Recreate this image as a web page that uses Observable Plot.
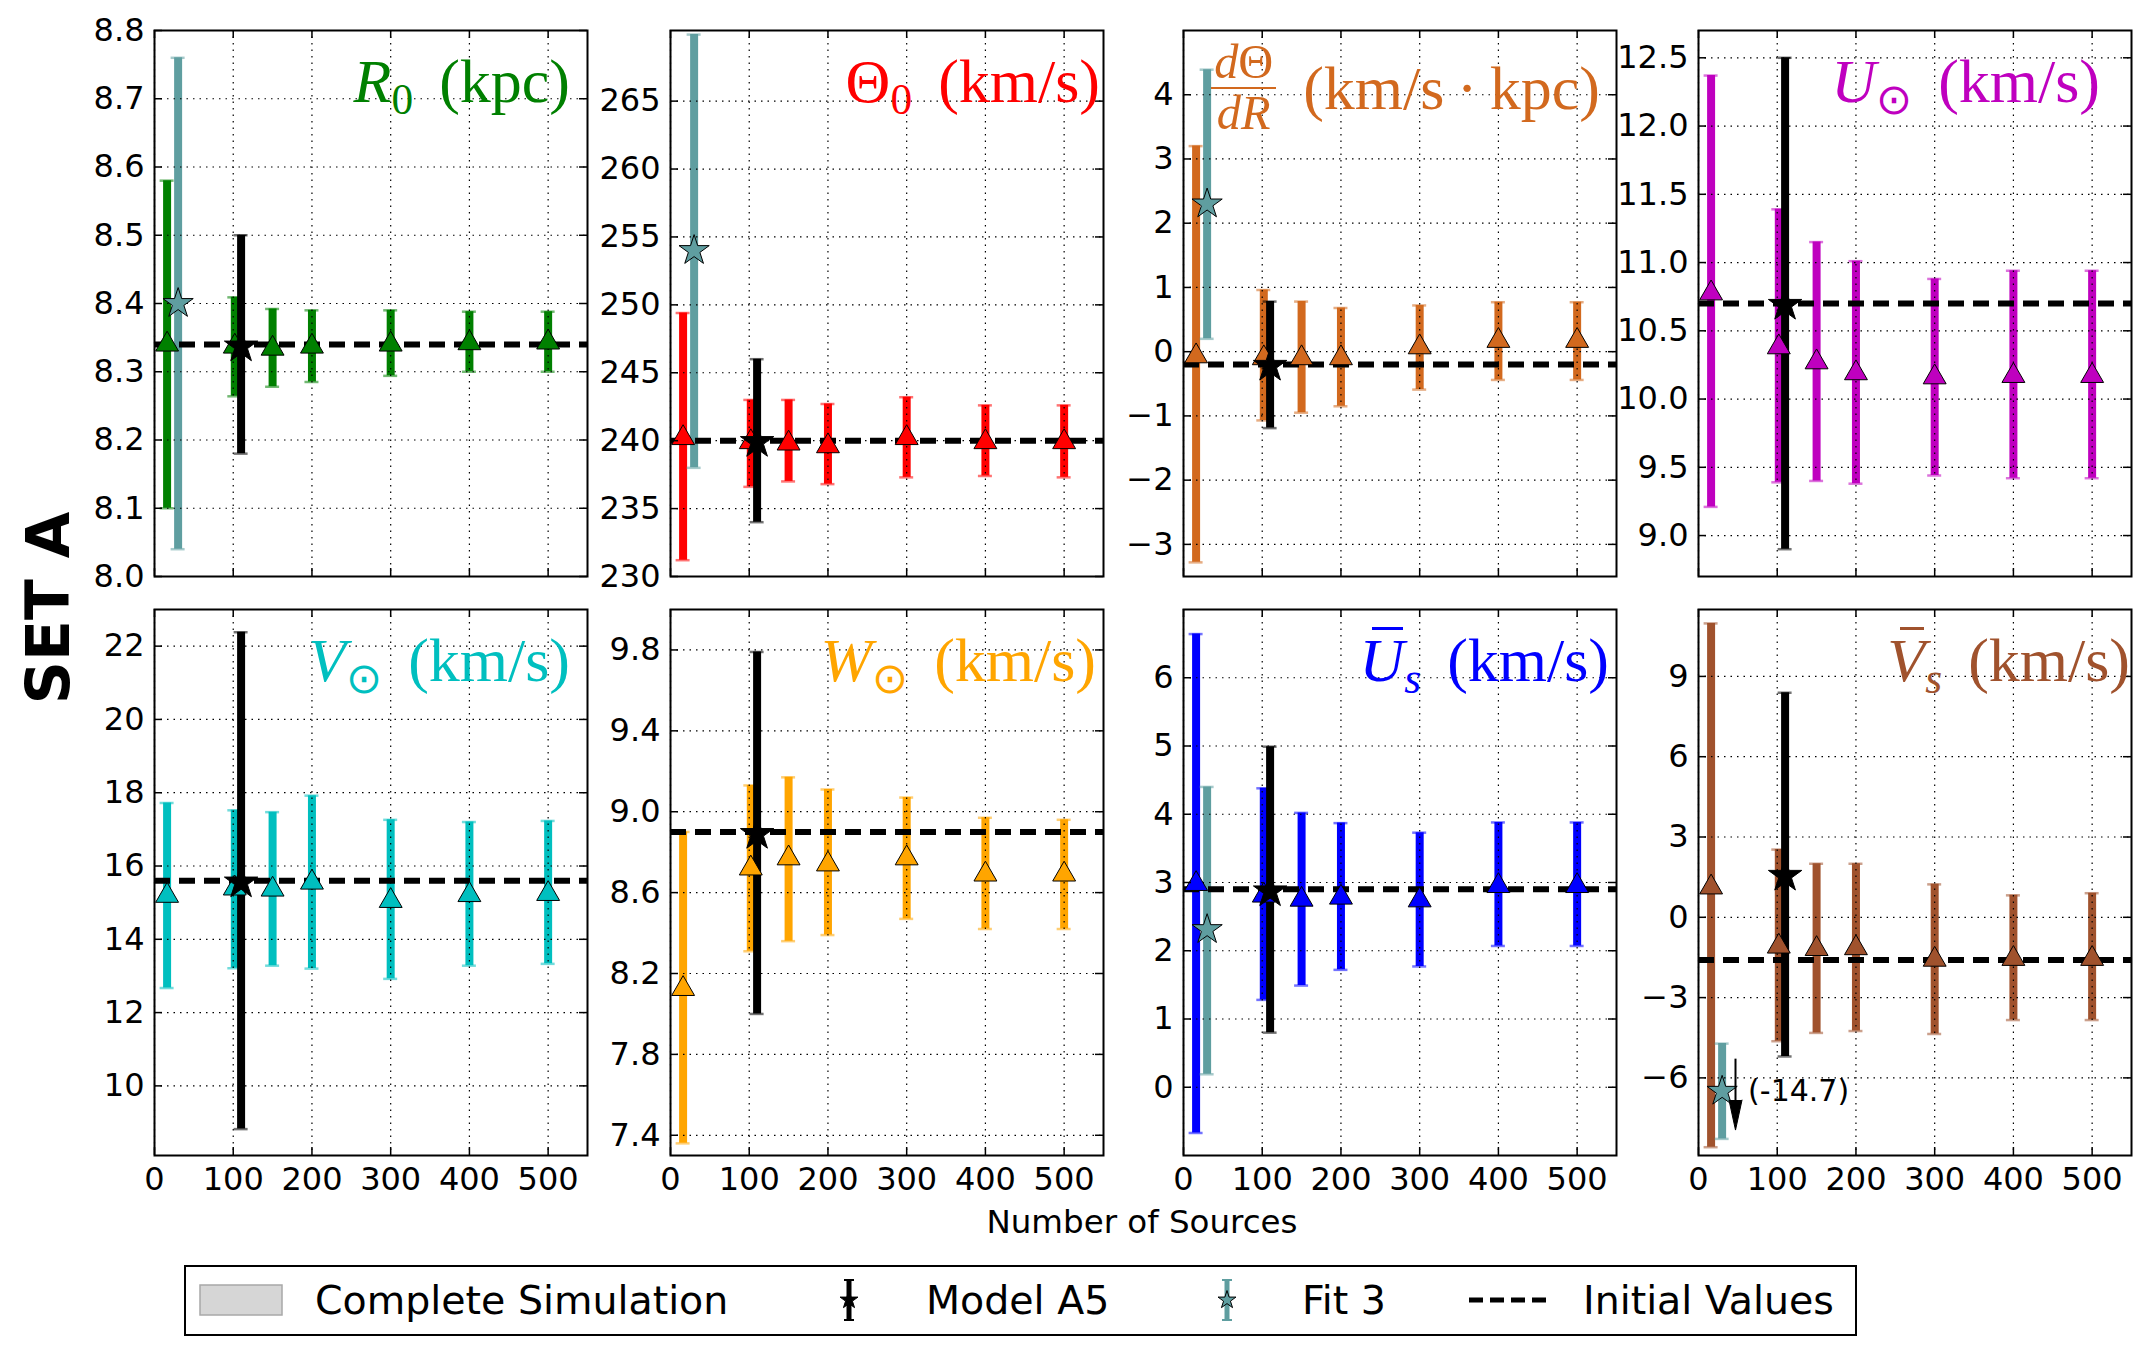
<!DOCTYPE html>
<html>
<head>
<meta charset="utf-8">
<script src="https://cdn.jsdelivr.net/npm/d3@7"></script>
<script src="https://cdn.jsdelivr.net/npm/@observablehq/plot@0.6"></script>
<style>
  body { margin: 0; background: #fff; }
  #fig { position: relative; width: 2153px; height: 1353px; background: #fff; overflow: hidden;
         font-family: "DejaVu Sans", sans-serif; color: #000; }
  .title { position: absolute; font-family: "Liberation Serif", serif; font-size: 62px; line-height: 1;
           white-space: nowrap; text-align: right; }
  .title sub { font-size: 0.7em; vertical-align: -0.28em; line-height: 0; }
  .title .gap { display: inline-block; width: 0.42em; }
  .frac { display: inline-flex; flex-direction: column; align-items: center; vertical-align: middle;
          position: relative; top: -7px; font-size: 0.78em; line-height: 0.8; margin-right: 0.02em; }
  .frac .num { border-bottom: 0.055em solid currentColor; padding: 0 0.06em 0.1em; }
  .frac .den { padding-top: 0.12em; }
  .ov { position: relative; }
  .ov::after { content: ""; position: absolute; left: 0.2em; right: 0.02em; top: 0.02em;
               border-top: 0.055em solid currentColor; }
  .setlabel { position: absolute; left: 48px; top: 608px; font: bold 60px "DejaVu Sans", sans-serif;
              transform: translate(-50%, -50%) rotate(-90deg); white-space: nowrap; }
  .xlabel { position: absolute; left: 1142px; top: 1206px; font: 32.5px "DejaVu Sans", sans-serif;
            line-height: 1; transform: translateX(-50%); white-space: nowrap; }
</style>
</head>
<body>
<div id="fig"></div>
<script>
// Sample sizes of the complete simulation runs and the two single fits
const nSources = [16, 102, 150, 200, 300, 400, 500];
const nModelA5 = 110;
const nFit3 = 30;

// Complete simulation: [estimate, lower, upper] for each sample size
const r0Sim     = [[8.34, 8.10, 8.58], [8.337, 8.264, 8.409], [8.334, 8.278, 8.392], [8.337, 8.285, 8.390], [8.34, 8.294, 8.39], [8.342, 8.30, 8.388], [8.343, 8.30, 8.388]];
const theta0Sim = [[240.2, 231.2, 249.4], [239.9, 236.6, 243.0], [239.8, 237.0, 243.0], [239.6, 236.8, 242.7], [240.2, 237.3, 243.2], [239.9, 237.4, 242.6], [239.9, 237.3, 242.6]];
const dThetaSim = [[-0.07, -3.28, 3.20], [-0.1, -1.07, 0.96], [-0.1, -0.95, 0.78], [-0.1, -0.85, 0.68], [0.07, -0.59, 0.72], [0.17, -0.44, 0.77], [0.17, -0.44, 0.77]];
const uSunSim   = [[10.775, 9.21, 12.37], [10.38, 9.39, 11.39], [10.27, 9.40, 11.15], [10.19, 9.38, 11.01], [10.16, 9.44, 10.88], [10.17, 9.42, 10.94], [10.17, 9.42, 10.94]];
const vSunSim   = [[15.19, 12.67, 17.72], [15.39, 13.21, 17.52], [15.36, 13.28, 17.47], [15.55, 13.2, 17.92], [15.05, 12.92, 17.26], [15.21, 13.28, 17.2], [15.24, 13.33, 17.23]];
const wSunSim   = [[8.124, 7.36, 8.90], [8.72, 8.31, 9.13], [8.77, 8.36, 9.17], [8.74, 8.39, 9.11], [8.77, 8.47, 9.07], [8.69, 8.42, 8.97], [8.69, 8.42, 8.96]];
const usSim     = [[2.98, -0.67, 6.64], [2.81, 1.28, 4.38], [2.75, 1.49, 4.02], [2.78, 1.72, 3.87], [2.74, 1.77, 3.73], [2.95, 2.07, 3.88], [2.95, 2.07, 3.88]];
const vsSim     = [[1.12, -8.59, 10.98], [-1.09, -4.63, 2.53], [-1.18, -4.32, 2.0], [-1.15, -4.25, 2.0], [-1.58, -4.36, 1.23], [-1.55, -3.84, 0.82], [-1.55, -3.84, 0.9]];

// Model A5 and Fit 3, per parameter: [estimate, lower, upper]
const modelA5 = [[8.337, 8.18, 8.50], [239.9, 234.0, 246.0], [-0.22, -1.19, 0.78], [10.69, 8.9, 12.5],
                 [15.55, 8.82, 22.38], [8.89, 8.0, 9.79], [2.87, 0.80, 4.99], [1.55, -5.2, 8.39]];
const fit3 = [[8.40, 8.04, 8.76], [254.0, 238.0, 269.9], [2.30, 0.20, 4.39], null,
              null, null, [2.31, 0.19, 4.40], [-14.7, -16.48, -12.92]];
// Off-scale Fit 3 estimates are drawn shifted into the frame by this amount
const fit3Shift = [0, 0, 0, 0, 0, 0, 0, 8.2];

const initialValues = [8.34, 240, -0.2, 10.7, 15.6, 8.9, 2.9, -1.6];

// Tick values
const nTicks      = [0, 100, 200, 300, 400, 500];
const r0Ticks     = [8.0, 8.1, 8.2, 8.3, 8.4, 8.5, 8.6, 8.7, 8.8];
const theta0Ticks = [230, 235, 240, 245, 250, 255, 260, 265];
const dThetaTicks = [-3, -2, -1, 0, 1, 2, 3, 4];
const uSunTicks   = [9.0, 9.5, 10.0, 10.5, 11.0, 11.5, 12.0, 12.5];
const vSunTicks   = [10, 12, 14, 16, 18, 20, 22];
const wSunTicks   = [7.4, 7.8, 8.2, 8.6, 9.0, 9.4, 9.8];
const usTicks     = [0, 1, 2, 3, 4, 5, 6];
const vsTicks     = [-6, -3, 0, 3, 6, 9];

// Panel setup
const panels = [
  {sim: r0Sim,     color: "#008000", domain: [8.0, 8.8],   ticks: r0Ticks,     fmt: ".1f", col: 0, row: 0, inset: 17,
   title: `<i>R</i><sub>0</sub><span class="gap"></span>(kpc)`},
  {sim: theta0Sim, color: "#ff0000", domain: [230, 270.2], ticks: theta0Ticks, fmt: "d",   col: 1, row: 0, inset: 3,
   title: `Θ<sub>0</sub><span class="gap"></span>(km/s)`},
  {sim: dThetaSim, color: "#d2691e", domain: [-3.5, 5.0],  ticks: dThetaTicks, fmt: "d",   col: 2, row: 0, inset: 16,
   title: `<span class="frac"><span class="num"><i>d</i>Θ</span><span class="den"><i>dR</i></span></span><span class="gap"></span>(km/s\u2009·\u2009kpc)`},
  {sim: uSunSim,   color: "#bf00bf", domain: [8.7, 12.7],  ticks: uSunTicks,   fmt: ".1f", col: 3, row: 0, inset: 31,
   title: `<i>U</i><sub>⊙</sub><span class="gap"></span>(km/s)`},
  {sim: vSunSim,   color: "#00bfbf", domain: [8.1, 23.0],  ticks: vSunTicks,   fmt: "d",   col: 0, row: 1, inset: 17,
   title: `<i>V</i><sub>⊙</sub><span class="gap"></span>(km/s)`},
  {sim: wSunSim,   color: "#ffa500", domain: [7.3, 10.0],  ticks: wSunTicks,   fmt: ".1f", col: 1, row: 1, inset: 7,
   title: `<i>W</i><sub>⊙</sub><span class="gap"></span>(km/s)`},
  {sim: usSim,     color: "#0000ff", domain: [-1.0, 7.0],  ticks: usTicks,     fmt: "d",   col: 2, row: 1, inset: 7,
   title: `<i class="ov">U</i><sub><i>s</i></sub><span class="gap"></span>(km/s)`},
  {sim: vsSim,     color: "#a0522d", domain: [-8.9, 11.5], ticks: vsTicks,     fmt: "d",   col: 3, row: 1, inset: 1,
   title: `<i class="ov">V</i><sub><i>s</i></sub><span class="gap"></span>(km/s)`}
];

const figW = 2153;
const colLeft = [154, 670, 1183, 1698];
const rowTop = [30, 609];
const plotW = 433, plotH = 546;
const mL = 90, mR = 20, mT = 20, mB = 70;
const fit3Color = "#5f9ea0";

const fig = document.getElementById("fig");

function errorBars(data, color) {
  const cap = {x1: "n", x2: "n", insetLeft: -7, insetRight: -7, stroke: color, strokeOpacity: 0.55, strokeWidth: 2.5};
  return [
    Plot.ruleX(data, {x: "n", y1: "lo", y2: "hi", stroke: color, strokeWidth: 8}),
    Plot.ruleY(data, {...cap, y: "lo"}),
    Plot.ruleY(data, {...cap, y: "hi"})
  ];
}

panels.forEach((p, i) => {
  const sim = p.sim.map(([v, lo, hi], j) => ({n: nSources[j], v, lo, hi}));
  const a5 = [{n: nModelA5, v: modelA5[i][0], lo: modelA5[i][1], hi: modelA5[i][2]}];
  const f = fit3[i], sh = fit3Shift[i];
  const f3 = f ? [{n: nFit3, value: f[0], v: f[0] + sh, lo: f[1] + sh, hi: f[2] + sh, shifted: sh !== 0}] : [];
  const offscale = f3.filter(d => d.shifted).map(d => ({x: d.n + 17, from: d.v + 1.2, tip: d.v - 1.45, labelX: d.n + 33, y: d.v, value: d.value}));
  const showX = p.row === 1;

  const marks = [
    ...errorBars(sim, p.color),
    ...errorBars(f3, fit3Color),
    ...errorBars(a5, "#000"),
    Plot.gridX(nTicks, {stroke: "#000", strokeOpacity: 1, strokeWidth: 1.2, strokeDasharray: "1.5,5"}),
    Plot.gridY(p.ticks, {stroke: "#000", strokeOpacity: 1, strokeWidth: 1.2, strokeDasharray: "1.5,5"}),
    Plot.ruleY([initialValues[i]], {y: d => d, stroke: "#000", strokeWidth: 6, strokeDasharray: "16,9"}),
    Plot.dot(sim, {x: "n", y: "v", symbol: "triangle", r: 8.5, fill: p.color, stroke: "#000", strokeWidth: 1}),
    Plot.dot(a5, {x: "n", y: "v", symbol: "star", r: 10.5, fill: "#000", stroke: "#000", strokeWidth: 1}),
    Plot.dot(f3, {x: "n", y: "v", symbol: "star", r: 9.5, fill: fit3Color, stroke: "#000", strokeWidth: 1}),
    Plot.ruleX(offscale, {x: "x", y1: "from", y2: "tip", stroke: "#000", strokeWidth: 2, insetBottom: 20}),
    Plot.vector(offscale, {x: "x", y: "tip", length: 30, rotate: 180, anchor: "end", shape: "spike", r: 6.5,
                           fill: "#000", stroke: "#000", strokeWidth: 1}),
    Plot.text(offscale, {x: "labelX", y: "y", text: d => `(${d.value})`, textAnchor: "start", fontSize: 30, fill: "#000"}),
    // inward tick marks on all four sides
    Plot.tickY(p.ticks, {y: d => d, insetRight: plotW - 8, stroke: "#000", strokeWidth: 1.5}),
    Plot.tickY(p.ticks, {y: d => d, insetLeft: plotW - 8, stroke: "#000", strokeWidth: 1.5}),
    Plot.tickX(nTicks, {x: d => d, insetTop: plotH - 8, stroke: "#000", strokeWidth: 1.5}),
    Plot.tickX(nTicks, {x: d => d, insetBottom: plotH - 8, stroke: "#000", strokeWidth: 1.5}),
    Plot.frame({stroke: "#000", strokeWidth: 2}),
    Plot.axisY(p.ticks, {tickSize: 0, tickPadding: 10, tickFormat: d3.format(p.fmt), fontSize: 32})
  ];
  if (showX) marks.push(Plot.axisX(nTicks, {tickSize: 0, tickPadding: 12, fontSize: 32}));

  const chart = Plot.plot({
    width: mL + plotW + mR,
    height: mT + plotH + mB,
    marginLeft: mL, marginRight: mR, marginTop: mT, marginBottom: mB,
    x: {domain: [0, 550], axis: null},
    y: {domain: p.domain, axis: null},
    style: {fontFamily: "DejaVu Sans, sans-serif", fontSize: "32px", color: "#000", background: "transparent", overflow: "visible"},
    marks
  });
  chart.style.position = "absolute";
  chart.style.left = (colLeft[p.col] - mL) + "px";
  chart.style.top = (rowTop[p.row] - mT) + "px";
  fig.appendChild(chart);

  const t = document.createElement("div");
  t.className = "title";
  t.innerHTML = p.title;
  t.style.color = p.color;
  t.style.right = (figW - (colLeft[p.col] + plotW - p.inset)) + "px";
  t.style.top = (rowTop[p.row] + 72 - 52) + "px";
  fig.appendChild(t);
});

// Row label and shared x label
const setLabel = document.createElement("div");
setLabel.className = "setlabel";
setLabel.textContent = "SET A";
fig.appendChild(setLabel);

const xLabel = document.createElement("div");
xLabel.className = "xlabel";
xLabel.textContent = "Number of Sources";
fig.appendChild(xLabel);

// Legend
const legend = d3.create("svg")
  .attr("width", 1673).attr("height", 71)
  .style("position", "absolute").style("left", "184px").style("top", "1265px")
  .style("font-family", "DejaVu Sans, sans-serif").style("font-size", "39.5px");
legend.append("rect").attr("x", 1).attr("y", 1).attr("width", 1671).attr("height", 69)
  .attr("fill", "#fff").attr("stroke", "#000").attr("stroke-width", 2);
const cy = 35;
legend.append("rect").attr("x", 16).attr("y", cy - 15).attr("width", 82).attr("height", 30)
  .attr("fill", "#d6d6d6").attr("stroke", "#a8a8a8").attr("stroke-width", 1.5);
function legendErrorbar(x, color) {
  legend.append("line").attr("x1", x).attr("x2", x).attr("y1", cy - 20).attr("y2", cy + 20)
    .attr("stroke", color).attr("stroke-width", 5);
  for (const y of [cy - 20, cy + 20])
    legend.append("line").attr("x1", x - 5).attr("x2", x + 5).attr("y1", y).attr("y2", y)
      .attr("stroke", color).attr("stroke-width", 2);
}
function legendStar(x, fill) {
  legend.append("path").attr("d", d3.symbol(d3.symbolStar, 100)()).attr("transform", `translate(${x},${cy})`)
    .attr("fill", fill).attr("stroke", "#000").attr("stroke-width", 1);
}
legendErrorbar(665, "#000"); legendStar(665, "#000");
legendErrorbar(1043, fit3Color); legendStar(1043, fit3Color);
legend.append("line").attr("x1", 1285).attr("x2", 1365).attr("y1", cy).attr("y2", cy)
  .attr("stroke", "#000").attr("stroke-width", 5).attr("stroke-dasharray", "14,7");
const items = [["Complete Simulation", 131], ["Model A5", 742], ["Fit 3", 1118], ["Initial Values", 1399]];
for (const [label, x] of items)
  legend.append("text").attr("x", x).attr("y", cy).attr("dy", "0.35em").text(label);
fig.appendChild(legend.node());
</script>
</body>
</html>
